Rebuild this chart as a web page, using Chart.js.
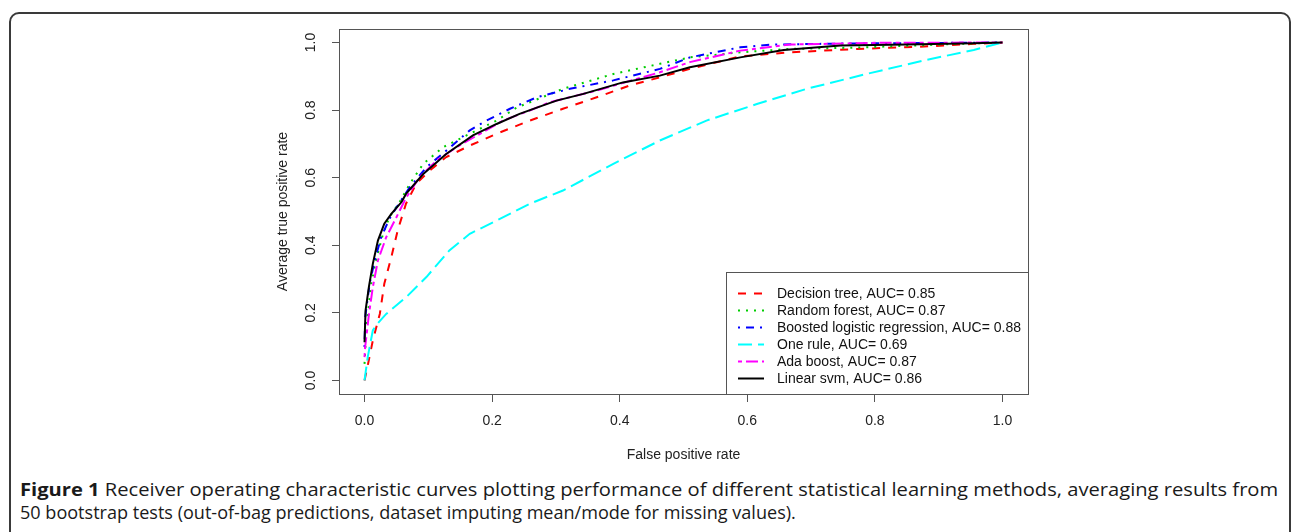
<!DOCTYPE html>
<html><head><meta charset="utf-8">
<script src="https://cdn.jsdelivr.net/npm/chart.js@4.4.1/dist/chart.umd.min.js"></script>
<style>
html,body{margin:0;padding:0;background:#fff;}
body{width:1292px;height:532px;overflow:hidden;position:relative;}
#frame{position:absolute;left:9px;top:12px;width:1282px;height:600px;border:2px solid #3a3a3a;border-radius:10px;box-sizing:border-box;}
#wrap{position:absolute;left:0;top:0;width:1292px;height:470px;}
.cap{position:absolute;left:20px;white-space:nowrap;font-family:"Open Sans","Noto Sans",sans-serif;font-size:17.5px;line-height:23.5px;color:#1a1a1a;transform-origin:0 0;}
.cap b{font-weight:700;}
</style></head><body>
<div id="frame"></div>
<div id="wrap"><canvas id="c" width="1292" height="470"></canvas></div>
<div class="cap" id="cap1" style="top:477.5px"><b>Figure 1</b> Receiver operating characteristic curves plotting performance of different statistical learning methods, averaging results from</div>
<div class="cap" id="cap2" style="top:501px">50 bootstrap tests (out-of-bag predictions, dataset imputing mean/mode for missing values).</div>
<script>
// ---- data ----
const xTickValues = [0, 0.2, 0.4, 0.6, 0.8, 1.0];
const yTickValues = [0, 0.2, 0.4, 0.6, 0.8, 1.0];
const seriesLabels = ["Decision tree, AUC= 0.85","Random forest, AUC= 0.87","Boosted logistic regression, AUC= 0.88","One rule, AUC= 0.69","Ada boost, AUC= 0.87","Linear svm, AUC= 0.86"];

const treeX = [0, 0.005, 0.013, 0.024, 0.031, 0.042, 0.052, 0.065, 0.081, 0.102, 0.128, 0.165, 0.207, 0.259, 0.311, 0.364, 0.416, 0.463, 0.51, 0.589, 0.667, 0.772, 0.877, 0.955, 1];
const treeY = [0, 0.044, 0.118, 0.197, 0.286, 0.365, 0.444, 0.523, 0.582, 0.621, 0.661, 0.695, 0.730, 0.769, 0.804, 0.838, 0.873, 0.897, 0.922, 0.959, 0.971, 0.981, 0.988, 0.996, 1];

const forestX = [0, 0.003, 0.0105, 0.018, 0.029, 0.039, 0.055, 0.071, 0.092, 0.123, 0.165, 0.207, 0.238, 0.311, 0.39, 0.463, 0.51, 0.589, 0.667, 0.772, 0.903, 1];
const forestY = [0.049, 0.158, 0.286, 0.355, 0.434, 0.483, 0.528, 0.582, 0.641, 0.690, 0.730, 0.769, 0.807, 0.863, 0.907, 0.937, 0.956, 0.971, 0.981, 0.985, 0.994, 1];

const boostX = [0, 0.001, 0.008, 0.016, 0.026, 0.039, 0.052, 0.071, 0.097, 0.128, 0.165, 0.191, 0.228, 0.270, 0.322, 0.39, 0.463, 0.51, 0.589, 0.64, 0.75, 1];
const boostY = [0.099, 0.187, 0.286, 0.355, 0.424, 0.478, 0.518, 0.572, 0.631, 0.680, 0.740, 0.769, 0.804, 0.838, 0.863, 0.888, 0.922, 0.956, 0.986, 0.994, 0.997, 1];

const oneRuleX = [0, 0.005, 0.013, 0.018, 0.034, 0.065, 0.097, 0.133, 0.165, 0.207, 0.259, 0.311, 0.39, 0.463, 0.536, 0.615, 0.693, 0.787, 0.877, 0.955, 1];
const oneRuleY = [0, 0.069, 0.148, 0.163, 0.197, 0.246, 0.306, 0.385, 0.434, 0.473, 0.523, 0.562, 0.641, 0.710, 0.769, 0.818, 0.863, 0.907, 0.947, 0.978, 1];

const adaX = [0, 0.001, 0.007, 0.013, 0.021, 0.034, 0.05, 0.065, 0.086, 0.113, 0.144, 0.181, 0.217, 0.259, 0.29, 0.364, 0.463, 0.51, 0.589, 0.667, 0.8, 1];
const adaY = [0.069, 0.099, 0.197, 0.276, 0.355, 0.424, 0.483, 0.540, 0.601, 0.651, 0.690, 0.730, 0.769, 0.799, 0.823, 0.858, 0.912, 0.942, 0.976, 0.994, 0.999, 1];

const svmX = [0, 0.0016, 0.0068, 0.013, 0.021, 0.031, 0.042, 0.058, 0.065, 0.092, 0.128, 0.170, 0.207, 0.243, 0.280, 0.301, 0.343, 0.405, 0.463, 0.510, 0.589, 0.657, 0.746, 0.850, 0.955, 1];
const svmY = [0.113, 0.207, 0.276, 0.345, 0.414, 0.464, 0.493, 0.528, 0.552, 0.611, 0.670, 0.725, 0.759, 0.789, 0.814, 0.828, 0.848, 0.882, 0.902, 0.927, 0.956, 0.978, 0.991, 0.994, 0.998, 1];

// ---- styles ----
const FONT = '"Liberation Sans", Arial, sans-serif';
const FS = 14;
const colors = ['#FF0000', '#00CD00', '#0000FF', '#00FFFF', '#FF00FF', '#000000'];
const dashes = [[8, 8], [2, 6], [2, 6, 8, 6], [14, 6], [4, 4, 12, 4], []];
const xs = [treeX, forestX, boostX, oneRuleX, adaX, svmX];
const ys = [treeY, forestY, boostY, oneRuleY, adaY, svmY];

const datasets = seriesLabels.map((lab, i) => ({
  label: lab,
  data: xs[i].map((x, k) => ({x: x, y: ys[i][k]})),
  borderColor: colors[i],
  borderWidth: 2,
  borderDash: dashes[i],
  pointRadius: 0,
  tension: 0,
  fill: false,
  order: seriesLabels.length - i
}));

const boxPlugin = {
  id: 'rbox',
  afterDraw(chart) {
    const {ctx, chartArea: a} = chart;
    ctx.save();
    ctx.strokeStyle = '#555';
    ctx.lineWidth = 1;
    ctx.setLineDash([]);
    ctx.strokeRect(Math.round(a.left) + 0.5, Math.round(a.top) + 0.5, Math.round(a.right - a.left), Math.round(a.bottom - a.top));
    ctx.restore();
  }
};

const legendPlugin = {
  id: 'rlegend',
  afterDraw(chart) {
    const {ctx, chartArea: a} = chart;
    const w = 302, h = 122;
    const L = Math.round(a.right) - w, T = Math.round(a.bottom) - h;
    ctx.save();
    ctx.fillStyle = '#fff';
    ctx.fillRect(L, T, w, h);
    ctx.strokeStyle = '#555';
    ctx.lineWidth = 1;
    ctx.setLineDash([]);
    ctx.strokeRect(L + 0.5, T + 0.5, w, h);
    ctx.font = FS + 'px ' + FONT;
    ctx.textBaseline = 'middle';
    ctx.textAlign = 'left';
    chart.data.datasets.forEach((ds, i) => {
      const y = T + 21.5 + i * 17;
      ctx.strokeStyle = ds.borderColor;
      ctx.lineWidth = 2;
      ctx.setLineDash(ds.borderDash);
      ctx.beginPath();
      ctx.moveTo(L + 12, y);
      ctx.lineTo(L + 38, y);
      ctx.stroke();
      ctx.setLineDash([]);
      ctx.fillStyle = '#111';
      ctx.fillText(ds.label, L + 51, y + 0.5);
    });
    ctx.restore();
  }
};

new Chart(document.getElementById('c'), {
  type: 'line',
  data: {datasets},
  options: {
    responsive: false,
    animation: false,
    events: [],
    layout: {padding: {left: 270, top: 29, right: 264, bottom: 0}},
    plugins: {legend: {display: false}, tooltip: {enabled: false}},
    scales: {
      x: {
        type: 'linear', min: -0.04, max: 1.04,
        afterBuildTicks: s => { s.ticks = xTickValues.map(v => ({value: v})); },
        afterFit: s => { s.height = 76; },
        grid: {display: true, drawOnChartArea: false, drawTicks: true, tickLength: 8, color: '#555', lineWidth: 1},
        border: {display: true, color: '#555', width: 1},
        ticks: {padding: 11, color: '#222', font: {family: FONT, size: FS}, maxRotation: 0, autoSkip: false, callback: v => Number(v).toFixed(1)},
        title: {display: true, text: 'False positive rate', color: '#222', font: {family: FONT, size: FS}, padding: {top: 0, bottom: 6.5}}
      },
      y: {
        type: 'linear', min: -0.04, max: 1.04,
        afterBuildTicks: s => { s.ticks = yTickValues.map(v => ({value: v})); },
        afterFit: s => { s.width = 69; },
        grid: {display: true, drawOnChartArea: false, drawTicks: true, tickLength: 7, color: '#555', lineWidth: 1},
        border: {display: true, color: '#555', width: 1},
        ticks: {padding: 11, color: '#222', font: {family: FONT, size: FS}, minRotation: 90, maxRotation: 90, crossAlign: 'center', autoSkip: false, callback: v => Number(v).toFixed(1)},
        title: {display: true, text: 'Average true positive rate', color: '#222', font: {family: FONT, size: FS}, padding: {top: 4.5, bottom: 0}}
      }
    }
  },
  plugins: [boxPlugin, legendPlugin]
});

// fit caption lines to the reference line extents
function fitCaption() {
  const c1 = document.getElementById('cap1'), c2 = document.getElementById('cap2');
  c1.style.transform = 'scaleX(' + (1258 / c1.offsetWidth) + ')';
  c2.style.transform = 'scaleX(' + (776 / c2.offsetWidth) + ')';
}
fitCaption();
if (document.fonts && document.fonts.ready) document.fonts.ready.then(fitCaption);
</script>
</body></html>
